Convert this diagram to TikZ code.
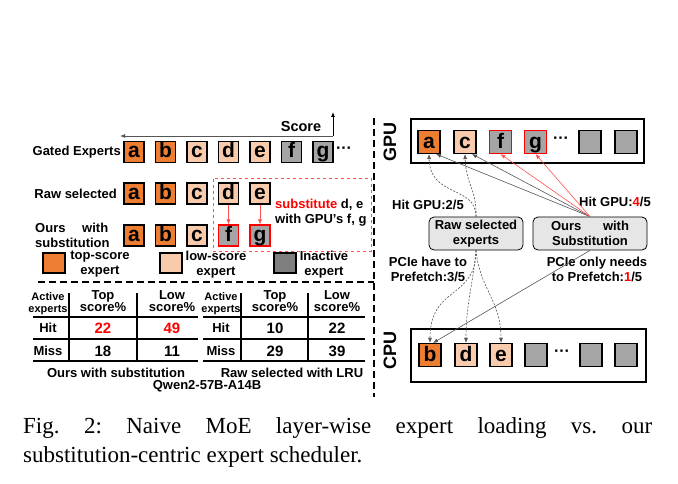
\documentclass[tikz,border=0pt]{standalone}
\usepackage{fontspec}
\setmainfont{Liberation Serif}
\setsansfont{Liberation Sans}
\usetikzlibrary{arrows.meta}
\definecolor{orng}{HTML}{ED7D31}
\definecolor{lite}{HTML}{F8CBAD}
\definecolor{gry}{HTML}{A5A5A5}
\definecolor{dgry}{HTML}{7F7F7F}
\definecolor{boxg}{HTML}{E7E6E6}
\definecolor{rd}{HTML}{FF0000}
\definecolor{rdl}{HTML}{FF5050}
\definecolor{lgrey}{HTML}{555555}
\frenchspacing
\begin{document}
\begin{tikzpicture}[x=1pt,y=-1pt,
  lbl/.style={font=\sffamily\bfseries\fontsize{13}{15}\selectfont, inner sep=0pt, align=center},
  smlbl/.style={font=\sffamily\bfseries\fontsize{11}{11.5}\selectfont, inner sep=0pt, align=center},
  hdlbl/.style={font=\sffamily\bfseries\fontsize{13}{11.5}\selectfont, inner sep=0pt, align=center},
  num/.style={font=\sffamily\bfseries\fontsize{15}{15}\selectfont, inner sep=0pt},
  ebox/.style={draw, line width=1.1pt, minimum width=20pt, minimum height=21pt, inner sep=0pt,
     text height=16pt, text depth=4.5pt, font=\sffamily\bfseries\fontsize{21}{21}\selectfont},
  rbox/.style={ebox, minimum width=22pt, minimum height=23pt, text height=17.5pt, text depth=5pt},
  lgbox/.style={draw, line width=1.1pt, minimum width=22pt, minimum height=20pt, inner sep=0pt},
  dots/.style={font=\sffamily\bfseries\fontsize{16}{16}\selectfont, inner sep=0pt},
  tline/.style={line width=1.3pt},
  sepline/.style={line width=1.6pt, dash pattern=on 7pt off 4pt},
  garr/.style={draw=lgrey, line width=0.6pt, -{Latex[length=5pt,width=4pt]}},
  rarr/.style={draw=rdl, line width=0.6pt, -{Latex[length=5pt,width=4pt]}},
  darr/.style={draw=lgrey, line width=0.6pt, dash pattern=on 2pt off 1.5pt, -{Latex[length=5pt,width=4pt]}},
  gbox/.style={draw, fill=boxg, rounded corners=5pt, line width=0.8pt, minimum height=33pt, inner sep=0pt,
     font=\sffamily\bfseries\fontsize{13}{15}\selectfont, align=center},
  cpubox/.style={draw, line width=1.2pt, inner sep=0pt}
]
\useasboundingbox (0,0) rectangle (678,484);

% ---------- score axis ----------
\coordinate (sR) at (333,136);
\coordinate (sL) at (120,136);
\coordinate (sT) at (333,112);
\draw[draw=lgrey, line width=0.8pt, -{Latex[length=5pt,width=4pt]}] (sR) -- (sL);
\draw[line width=0.8pt, -{Latex[length=5pt,width=4pt]}] (sR) -- (sT);
\node[font=\sffamily\bfseries\fontsize{14.5}{15}\selectfont, inner sep=0pt] (score) at (301,127) {Score};

% ---------- gated experts ----------
\node[lbl, anchor=east] (gatedlbl) at (121,152) {Gated Experts};
\node[ebox, fill=orng] (ga) at (134,152) {a};
\node[ebox, fill=orng] (gb) at (165.5,152) {b};
\node[ebox, fill=lite] (gc) at (197,152) {c};
\node[ebox, fill=lite] (gd) at (228.5,152) {d};
\node[ebox, fill=lite] (ge) at (260,152) {e};
\node[ebox, fill=gry] (gf) at (291.5,152) {f};
\node[ebox, fill=gry] (gg) at (323,152) {g};
\node[dots] (gdots) at (344,150) {···};

% ---------- raw selected ----------
\node[lbl, anchor=east] (rawlbl) at (117,193.5) {Raw selected};
\node[ebox, fill=orng] (sa) at (134,193.5) {a};
\node[ebox, fill=orng] (sb) at (165.5,193.5) {b};
\node[ebox, fill=lite] (sc) at (197,193.5) {c};
\node[ebox, fill=lite] (sd) at (228.5,193.5) {d};
\node[ebox, fill=lite] (se) at (260,193.5) {e};

% ---------- ours ----------
\node[lbl, anchor=west, align=left] (ourslbl) at (35,235) {\makebox[73pt][s]{Ours with}\\substitution};
\node[ebox, fill=orng] (oa) at (134,235.5) {a};
\node[ebox, fill=orng] (ob) at (165.5,235.5) {b};
\node[ebox, fill=lite] (oc) at (197,235.5) {c};
\node[ebox, fill=gry, draw=rd] (of) at (228.5,235.5) {f};
\node[ebox, fill=gry, draw=rd] (og) at (260,235.5) {g};

\node[draw=rdl, dashed, line width=0.8pt, minimum width=158pt, minimum height=73pt, inner sep=0pt] (subbox) at (292,214.5) {};
\draw[rarr] (sd) -- (of);
\draw[rarr] (se) -- (og);
\node[lbl, anchor=west, align=left] (subtxt) at (275,212.5) {{\color{rd}substitute} d, e\\with GPU’s f, g};

% ---------- legend ----------
\node[lgbox, fill=orng] (lg1) at (54,263) {};
\node[lbl] (lg1t) at (100,264) {top-score\\expert};
\node[lgbox, fill=lite] (lg2) at (171,263) {};
\node[lbl] (lg2t) at (216,265) {low-score\\expert};
\node[lgbox, fill=dgry] (lg3) at (285,263) {};
\node[lbl] (lg3t) at (324,265) {Inactive\\expert};

% ---------- separators ----------
\coordinate (hs1) at (38,282);
\coordinate (hs2) at (374,282);
\coordinate (vs1) at (374,118);
\coordinate (vs2) at (374,397);
\draw[sepline] (hs1) -- (hs2);
\draw[sepline] (vs1) -- (vs2);

% ---------- left table ----------
\draw[tline] (33,317) -- (198,317);
\draw[tline] (33,339) -- (198,339);
\draw[tline] (33,361) -- (198,361);
\draw[line width=1.1pt] (69,293) -- (69,361);
\draw[line width=1.1pt] (137,293) -- (137,361);
\node[smlbl] (lae) at (48,303.5) {Active\\experts};
\node[hdlbl] (ltop) at (103,301) {Top\\score\%};
\node[hdlbl] (llow) at (172,301) {Low\\score\%};
\node[lbl] (lhit) at (48,328) {Hit};
\node[lbl] (lmiss) at (48,350.5) {Miss};
\node[num, text=rd] (l22) at (103,328.5) {22};
\node[num, text=rd] (l49) at (172,328.5) {49};
\node[num] (l18) at (103,351) {18};
\node[num] (l11) at (172,351) {11};

% ---------- right table ----------
\draw[tline] (203,317) -- (365,317);
\draw[tline] (203,339) -- (365,339);
\draw[tline] (203,361) -- (365,361);
\draw[line width=1.1pt] (241,293) -- (241,361);
\draw[line width=1.1pt] (308,293) -- (308,361);
\node[smlbl] (rae) at (221,303.5) {Active\\experts};
\node[hdlbl] (rtop) at (275,301) {Top\\score\%};
\node[hdlbl] (rlow) at (337,301) {Low\\score\%};
\node[lbl] (rhit) at (221,328) {Hit};
\node[lbl] (rmiss) at (221,350.5) {Miss};
\node[num] (r10) at (275,328.5) {10};
\node[num] (r22) at (337,328.5) {22};
\node[num] (r29) at (275,351) {29};
\node[num] (r39) at (337,351) {39};

\node[lbl] (tcap1) at (116,373) {Ours with substitution};
\node[lbl] (tcap2) at (292,373) {Raw selected with LRU};
\node[lbl] (tcap3) at (207,386) {Qwen2-57B-A14B};

% ---------- right panel: GPU ----------
\node[font=\sffamily\bfseries\fontsize{18}{18}\selectfont, rotate=90, inner sep=0pt] (gpul) at (390,142) {GPU};
\node[cpubox, minimum width=233pt, minimum height=44pt] (gpubox) at (527.5,141) {};
\node[rbox, fill=orng] (ra) at (429,142) {a};
\node[rbox, fill=lite] (rc) at (465,142) {c};
\node[rbox, fill=gry, draw=rd] (rf) at (500.5,142) {f};
\node[rbox, fill=gry, draw=rd] (rg) at (535.5,142) {g};
\node[dots] (rdots) at (561,140) {···};
\node[rbox, fill=gry] (rx1) at (590,142) {};
\node[rbox, fill=gry] (rx2) at (626,142) {};

% ---------- right panel: CPU ----------
\node[font=\sffamily\bfseries\fontsize{18}{18}\selectfont, rotate=90, inner sep=0pt] (cpul) at (390,350) {CPU};
\node[cpubox, minimum width=235pt, minimum height=53pt] (cpubox) at (528.5,355.5) {};
\node[rbox, fill=orng] (cb) at (430,355) {b};
\node[rbox, fill=lite] (cd) at (466,355) {d};
\node[rbox, fill=lite] (ce) at (501,355) {e};
\node[rbox, fill=gry] (cx1) at (536,355) {};
\node[dots] (cdots) at (562,353) {···};
\node[rbox, fill=gry] (cx2) at (591,355) {};
\node[rbox, fill=gry] (cx3) at (626,355) {};

% ---------- middle boxes ----------
\node[gbox, minimum width=94pt] (rawbox) at (476,233.5) {Raw selected\\experts};
\node[gbox, minimum width=114pt] (oursbox) at (590,233.5) {\makebox[78pt][s]{Ours with}\\Substitution};

\node[lbl] (hit2) at (428,205) {Hit GPU:2/5};
\node[lbl] (hit4) at (615,202) {Hit GPU:{\color{rd}4}/5};
\node[lbl] (pcie1) at (428,269.5) {PCIe have to\\Prefetch:3/5};
\node[lbl] (pcie2) at (597,269.5) {PCIe only needs\\to Prefetch:{\color{rd}1}/5};

% ---------- arrows ----------
\draw[garr] (oursbox.north) -- ([xshift=7pt]ra.south);
\draw[garr] (oursbox.north) -- ([xshift=7pt]rc.south);
\draw[rarr] (oursbox.north) -- (rf.south);
\draw[rarr] (oursbox.north) -- (rg.south);
\draw[darr] (rawbox.north) .. controls (476,185) and (430,198) .. (ra.south);
\draw[darr] (rawbox.north) .. controls (477,190) and (466,185) .. (rc.south);

\draw[darr] (rawbox.south) .. controls (476,300) and (430,285) .. (cb.north);
\draw[darr] (rawbox.south) .. controls (472,290) and (466,305) .. (cd.north);
\draw[darr] (rawbox.south) .. controls (480,290) and (501,300) .. (ce.north);
\draw[garr] (oursbox.south) -- ([xshift=3pt]cb.north);

% ---------- caption ----------
\node[anchor=base west, inner sep=0pt, font=\fontsize{23}{28}\selectfont] (cap1) at (23,433)
  {\makebox[629pt][s]{Fig. 2: Naive MoE layer-wise expert loading vs. our}};
\node[anchor=base west, inner sep=0pt, font=\fontsize{23}{28}\selectfont] (cap2) at (23,462)
  {substitution-centric expert scheduler.};
\end{tikzpicture}
\end{document}
